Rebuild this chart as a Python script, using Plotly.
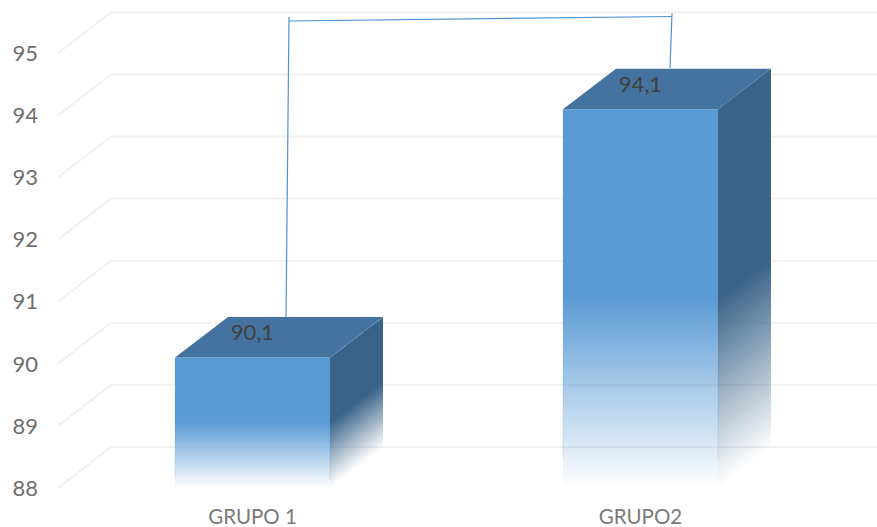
import plotly.graph_objects as go

categories = ["GRUPO 1", "GRUPO2"]
values = [90.1, 94.1]
value_labels = ["90,1", "94,1"]
y_ticks = [88, 89, 90, 91, 92, 93, 94, 95]

# layout constants (pixels)
W, H = 877, 527
ML, MB = 42, 39
PX_PER_CAT = 388.0
CAT0_PX = 252.5
PX_PER_UNIT = 62.1
AXIS_Y_PX = 488
HALF_BAR = 77.5 / PX_PER_CAT
DEPTH_PX = 53
DEPTH_X = DEPTH_PX / PX_PER_CAT
DEPTH_Y = 40.5 / PX_PER_UNIT
WALL_Y = 41 / PX_PER_UNIT
BASE = y_ticks[0]

FRONT = (91, 155, 213)
SIDE = (57, 99, 137)
TOP = "#44739F"
GRID = "#F1F1F1"

x_range = [(ML - CAT0_PX) / PX_PER_CAT, (W - CAT0_PX) / PX_PER_CAT]
y_range = [BASE, BASE + AXIS_Y_PX / PX_PER_UNIT]


def xp(px):
    return (px - CAT0_PX) / PX_PER_CAT


def yp(py):
    return BASE + (AXIS_Y_PX - py) / PX_PER_UNIT


def fade(rgb):
    r, g, b = rgb
    return [[0, f"rgba({r},{g},{b},0)"], [0.5, f"rgba({r},{g},{b},1)"], [1, f"rgba({r},{g},{b},1)"]]


fig = go.Figure()

# floor-to-wall gridlines
for t in y_ticks:
    fig.add_trace(go.Scatter(
        x=[xp(58), xp(58 + DEPTH_PX), x_range[1]], y=[t, t + WALL_Y, t + WALL_Y],
        mode="lines", line=dict(color=GRID, width=2), hoverinfo="skip", showlegend=False, cliponaxis=False))

for i, v in enumerate(values):
    l, r = i - HALF_BAR, i + HALF_BAR
    # front face
    fig.add_trace(go.Scatter(
        x=[l, r, r, l, l], y=[BASE, BASE, v, v, BASE], mode="none", fill="toself",
        fillgradient=dict(type="vertical", colorscale=fade(FRONT), start=BASE, stop=v),
        hoverinfo="skip", showlegend=False))
    # faint front edges, stopping short of the faded foot
    foot = BASE + 0.08 * (v - BASE)
    fig.add_trace(go.Scatter(
        x=[l, l, None, r, r], y=[foot, v, None, foot, v], mode="lines",
        line=dict(color="rgba(91,155,213,0.2)", width=1), hoverinfo="skip", showlegend=False))
    # side face: 1px strips whose gradient shifts along the depth
    for k in range(DEPTH_PX):
        a, b = k / DEPTH_PX, (k + 1) / DEPTH_PX
        m = (a + b) / 2
        xa, xb = r + a * DEPTH_X, r + b * DEPTH_X
        fig.add_trace(go.Scatter(
            x=[xa, xb, xb, xa, xa],
            y=[BASE + a * DEPTH_Y, BASE + b * DEPTH_Y, v + b * DEPTH_Y, v + a * DEPTH_Y, BASE + a * DEPTH_Y],
            mode="none", fill="toself",
            fillgradient=dict(type="vertical", colorscale=fade(SIDE),
                              start=BASE + m * DEPTH_Y, stop=v + m * DEPTH_Y),
            hoverinfo="skip", showlegend=False))
    # top face
    fig.add_trace(go.Scatter(
        x=[l, r, r + DEPTH_X, l + DEPTH_X, l], y=[v, v, v + DEPTH_Y, v + DEPTH_Y, v],
        mode="none", fill="toself", fillcolor=TOP, hoverinfo="skip", showlegend=False))

# data labels
fig.add_trace(go.Scatter(
    x=list(range(len(values))), y=[v + 0.37 for v in values], text=value_labels,
    mode="text", textposition="middle center",
    textfont=dict(family="Lato", size=22, color="#404040"), hoverinfo="skip", showlegend=False))

# significance bracket
BR = dict(type="line", xref="x", yref="y", layer="above", line=dict(color="#4F93D2", width=1.2))
fig.add_shape(x0=xp(286), y0=yp(317), x1=xp(289), y1=yp(17), **BR)
fig.add_shape(x0=xp(289), y0=yp(21), x1=xp(672), y1=yp(16.5), **BR)
fig.add_shape(x0=xp(672), y0=yp(13), x1=xp(670), y1=yp(68), **BR)

fig.update_layout(
    width=W, height=H, margin=dict(l=ML, r=0, t=0, b=MB),
    paper_bgcolor="white", plot_bgcolor="white", showlegend=False,
    xaxis=dict(range=x_range, tickvals=list(range(len(categories))), ticktext=categories,
               showgrid=False, zeroline=False, showline=False, ticks="",
               ticklabelstandoff=14, tickfont=dict(family="Lato", size=20.5, color="#7A7A7A")),
    yaxis=dict(range=y_range, tickvals=y_ticks, showgrid=False, zeroline=False, showline=False,
               ticks="", ticklabelstandoff=3, tickfont=dict(family="Lato", size=22, color="#6E6E6E")),
)

fig.write_html("out.html", config={"displayModeBar": False},
               post_script="document.body.style.margin='0';")
